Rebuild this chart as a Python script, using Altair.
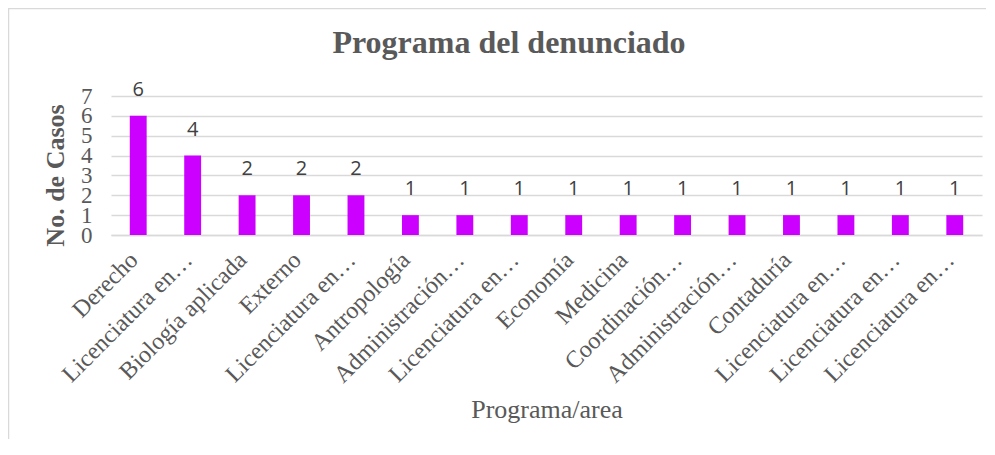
import altair as alt
import pandas as pd

categories = ["Derecho", "Licenciatura en…", "Biología aplicada", "Externo",
              "Licenciatura en…", "Antropología", "Administración…", "Licenciatura en…",
              "Economía", "Medicina", "Coordinación…", "Administración…", "Contaduría",
              "Licenciatura en…", "Licenciatura en…", "Licenciatura en…"]
casos = [6, 4, 2, 2, 2, 1, 1, 1, 1, 1, 1, 1, 1, 1, 1, 1]
y_ticks = [0, 1, 2, 3, 4, 5, 6, 7]

df = pd.DataFrame({"idx": [str(i) for i in range(len(categories))],
                   "cat": categories, "casos": casos})
order = list(df["idx"])
label_map = "{" + ",".join(f"'{i}':'{c}'" for i, c in zip(order, categories)) + "}"

W, H = 871, 139
GRAY = "#595959"

x_enc = alt.X("idx:N", sort=order,
              scale=alt.Scale(paddingInner=0.69, paddingOuter=0.345),
              axis=alt.Axis(title="Programa/area", labelAngle=-45, labelAlign="right",
                            labelBaseline="middle", labelExpr=label_map + "[datum.value]",
                            labelFont="Liberation Serif", labelFontSize=24, labelColor=GRAY,
                            labelPadding=21, labelOffset=-4, ticks=False,
                            domainColor="#d9d9d9", domainWidth=1.5,
                            labelOverlap=False,
                            titleFont="Liberation Serif", titleFontSize=26, titleFontWeight="normal",
                            titleColor=GRAY, titleY=182, titleBaseline="alphabetic",
                            labelLimit=300))
y_enc = alt.Y("casos:Q", scale=alt.Scale(domain=[0, 7], nice=False),
              axis=alt.Axis(title="No. de Casos", values=y_ticks, tickCount=8, ticks=False,
                            domain=False, gridColor="#d9d9d9", gridWidth=1.5,
                            labelOverlap=False,
                            labelFont="Liberation Serif", labelFontSize=23, labelColor=GRAY,
                            labelPadding=19,
                            titleFont="Liberation Serif", titleFontSize=26, titleFontWeight="bold",
                            titleColor=GRAY, titleAngle=270, titleX=-48, titleY=79,
                            titleAlign="center", titleBaseline="alphabetic"))

bars = alt.Chart(df).mark_bar(color="#CC00FF").encode(x=x_enc, y=y_enc)
labels = alt.Chart(df).mark_text(baseline="bottom", dy=-16, font="Open Sans", fontSize=20,
                                 color="#404040").encode(
    x=alt.X("idx:N", sort=order), y="casos:Q", text="casos:Q")

title = alt.Chart(pd.DataFrame({"t": ["Programa del denunciado"]})).mark_text(
    font="Liberation Serif", fontSize=32, fontWeight="bold", color=GRAY,
    align="center", baseline="alphabetic").encode(
    x=alt.value(398), y=alt.value(-43), text="t:N")

border = alt.Chart(pd.DataFrame({"a": [0]})).mark_rect(
    fill=None, stroke="#d9d9d9", strokeWidth=1.5, clip=False).encode(
    x=alt.value(-102.5), x2=alt.value(W + 60), y=alt.value(-87.5), y2=alt.value(H + 300))

chart = alt.layer(border, bars, labels, title).properties(
    width=W, height=H,
    autosize=alt.AutoSizeParams(type="none"),
    padding={"left": 103, "top": 88, "right": 4, "bottom": 204},
).configure_view(stroke=None)

chart.save("out.html", embed_options={"renderer": "svg", "actions": False})
